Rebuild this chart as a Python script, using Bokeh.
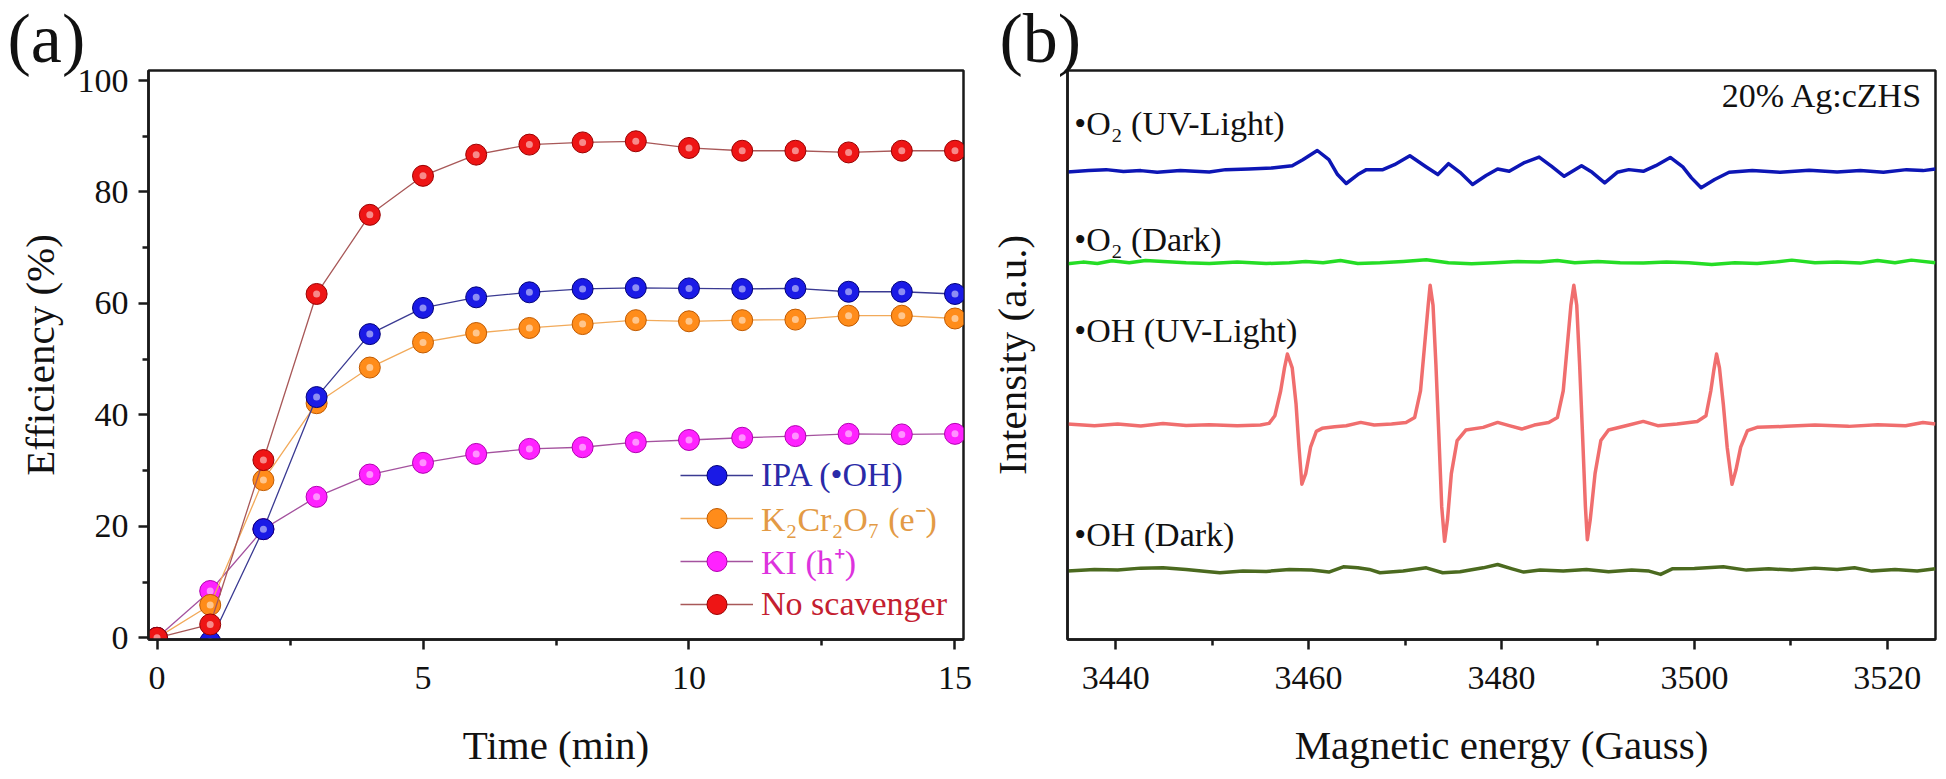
from bokeh.plotting import figure
from bokeh.layouts import row
from bokeh.models import Range1d, FixedTicker, Label, Legend, LegendItem
from bokeh.embed import file_html
from bokeh.resources import INLINE

FONT = "Liberation Serif"

# ---------------- Panel (a) data ----------------
time_min = list(range(16))
ipa = [0, -0.7, 19.5, 43.2, 54.5, 59.2, 61.1, 62.0, 62.6, 62.8, 62.7, 62.6, 62.7, 62.1, 62.1, 61.7]
k2cr2o7 = [0, 5.9, 28.3, 42.1, 48.5, 53.0, 54.7, 55.6, 56.3, 57.0, 56.8, 57.0, 57.1, 57.8, 57.8, 57.3]
ki = [0, 8.4, 19.5, 25.3, 29.3, 31.4, 33.0, 33.9, 34.2, 35.1, 35.5, 35.9, 36.2, 36.6, 36.5, 36.6]
no_scav = [0, 2.4, 31.9, 61.7, 75.9, 82.9, 86.7, 88.5, 88.9, 89.1, 87.9, 87.4, 87.4, 87.1, 87.4, 87.4]

a_xticks = [0, 5, 10, 15]
a_xminor = [2.5, 7.5, 12.5]
a_yticks = [0, 20, 40, 60, 80, 100]
a_yminor = [10, 30, 50, 70, 90]

# ---------------- Panel (b) data ----------------
o2_uv_G = [3435.0, 3437.2, 3439.0, 3440.8, 3442.6, 3444.3, 3446.7, 3449.7, 3451.4, 3453.8, 3456.2, 3458.3,
           3459.4, 3460.9, 3462.1, 3463.0, 3463.9, 3465.1, 3466.0, 3467.7, 3468.9, 3470.5, 3472.2, 3473.4,
           3474.5, 3475.7, 3477.0, 3478.4, 3479.6, 3480.8, 3482.3, 3483.9, 3485.2, 3486.5, 3488.3, 3489.4,
           3490.7, 3492.0, 3493.2, 3494.7, 3496.0, 3497.5, 3498.8, 3499.7, 3500.7, 3502.1, 3503.6, 3506.0,
           3508.9, 3511.9, 3514.8, 3517.2, 3519.6, 3522.0, 3523.7, 3525.0]
o2_uv_I = [469.7, 471.0, 472.0, 470.0, 471.0, 469.3, 471.0, 469.7, 472.0, 472.7, 473.7, 476.0,
           482.0, 491.3, 482.0, 467.0, 458.0, 467.0, 472.0, 472.0, 477.0, 486.0, 474.7, 467.0,
           478.0, 469.3, 457.0, 466.0, 472.7, 470.3, 478.7, 484.7, 475.3, 465.3, 476.0, 469.3,
           458.7, 469.3, 472.0, 470.3, 476.0, 484.3, 474.7, 463.7, 453.7, 462.0, 469.3, 471.0,
           469.3, 471.3, 469.7, 471.0, 469.3, 472.0, 471.0, 472.7]

o2_dark_G = [3435.0, 3436.6, 3438.1, 3439.6, 3441.4, 3443.1, 3444.9, 3447.3, 3449.7, 3452.6, 3455.6, 3458.0,
             3459.7, 3461.5, 3463.3, 3465.1, 3467.4, 3469.8, 3472.2, 3474.5, 3476.9, 3479.3, 3481.7, 3484.0,
             3485.8, 3487.6, 3490.0, 3492.3, 3494.7, 3497.1, 3499.4, 3501.8, 3504.2, 3506.5, 3508.3, 3510.1,
             3512.5, 3514.8, 3517.2, 3519.0, 3520.8, 3522.5, 3525.0]
o2_dark_I = [377.0, 378.7, 377.3, 380.0, 378.0, 380.3, 379.3, 378.0, 377.3, 378.7, 377.3, 378.0,
             379.3, 378.0, 380.3, 377.3, 378.0, 379.3, 381.0, 378.0, 377.0, 378.0, 379.3, 378.7,
             380.3, 378.0, 379.3, 378.0, 377.7, 378.7, 378.0, 376.3, 378.0, 377.3, 378.7, 380.7,
             378.0, 378.7, 377.7, 380.3, 378.0, 380.7, 378.0]

oh_uv_G = [3435.0, 3437.8, 3440.2, 3442.6, 3444.9, 3447.3, 3449.7, 3452.6, 3455.0, 3455.9, 3456.5, 3457.1,
           3457.5, 3457.8, 3458.3, 3458.7, 3459.0, 3459.3, 3459.7, 3460.2, 3460.8, 3461.4, 3462.7, 3463.9,
           3465.4, 3466.8, 3468.6, 3470.1, 3471.0, 3471.6, 3472.0, 3472.4, 3472.6, 3472.9, 3473.2, 3473.5,
           3473.8, 3474.1, 3474.4, 3474.8, 3475.4, 3476.3, 3478.1, 3479.6, 3480.8, 3482.1, 3483.4, 3484.9,
           3485.8, 3486.4, 3486.8, 3487.2, 3487.5, 3487.8, 3488.1, 3488.4, 3488.7, 3488.9, 3489.2, 3489.7,
           3490.3, 3491.1, 3492.9, 3494.7, 3496.2, 3498.2, 3500.3, 3501.2, 3501.7, 3502.0, 3502.3, 3502.6,
           3503.0, 3503.4, 3503.9, 3504.3, 3504.8, 3505.5, 3506.5, 3509.5, 3512.5, 3516.0, 3519.0, 3521.9,
           3523.7, 3525.0]
oh_uv_I = [215.3, 213.7, 215.3, 213.3, 216.0, 214.0, 214.7, 213.7, 214.3, 216.0, 223.7, 248.7,
           272.0, 286.0, 272.0, 235.3, 192.0, 154.7, 165.3, 192.0, 208.0, 211.0, 212.7, 213.7,
           217.0, 214.3, 215.3, 217.0, 222.0, 248.7, 292.0, 335.3, 355.3, 335.3, 275.3, 205.3,
           132.0, 97.0, 118.7, 165.3, 198.7, 209.3, 212.0, 217.0, 213.7, 210.3, 214.3, 217.0,
           222.0, 248.7, 292.0, 335.3, 355.3, 335.3, 275.3, 205.3, 132.0, 98.7, 118.7, 165.3,
           198.7, 209.3, 213.7, 218.0, 213.7, 215.3, 218.0, 223.7, 248.7, 268.7, 286.0, 272.0,
           235.3, 192.0, 154.7, 168.7, 192.0, 208.7, 212.0, 213.0, 214.3, 213.0, 214.7, 213.7,
           217.0, 215.3]

oh_dark_G = [3435.0, 3437.8, 3440.2, 3442.6, 3444.9, 3447.3, 3449.7, 3450.8, 3453.2, 3455.6, 3458.0, 3460.3,
             3462.1, 3463.6, 3465.1, 3466.3, 3467.4, 3469.8, 3472.2, 3473.9, 3475.7, 3478.1, 3479.6, 3481.1,
             3482.3, 3484.0, 3486.4, 3488.8, 3491.1, 3493.5, 3495.3, 3496.5, 3497.7, 3500.0, 3503.0, 3505.4,
             3507.7, 3510.1, 3512.5, 3514.8, 3516.6, 3518.4, 3520.8, 3523.1, 3525.0]
oh_dark_I = [67.0, 68.7, 68.0, 70.0, 70.3, 68.7, 66.3, 65.3, 67.0, 66.7, 68.7, 68.0,
             66.0, 71.3, 70.3, 68.7, 65.3, 67.0, 70.3, 65.3, 66.3, 70.3, 73.7, 69.3,
             66.0, 68.0, 67.0, 68.7, 66.3, 68.0, 67.0, 63.7, 69.3, 69.7, 71.3, 68.0,
             69.3, 68.0, 70.0, 68.7, 70.3, 67.0, 68.7, 67.0, 69.3]

b_xticks = [3440, 3460, 3480, 3500, 3520]
b_xminor = [3450, 3470, 3490, 3510]


def style_axes(p, tick_size="34px", title_size="41px"):
    p.background_fill_color = "white"
    p.border_fill_color = "white"
    p.grid.visible = False
    p.outline_line_color = "#1a1a1a"
    p.outline_line_width = 2.5
    for ax in (p.xaxis[0], p.yaxis[0]):
        ax.axis_line_color = "#1a1a1a"
        ax.axis_line_width = 2.5
        ax.major_tick_line_color = "#1a1a1a"
        ax.major_tick_line_width = 2.5
        ax.minor_tick_line_color = "#1a1a1a"
        ax.minor_tick_line_width = 2.5
        ax.major_tick_in = 0
        ax.major_tick_out = 10
        ax.minor_tick_in = 0
        ax.minor_tick_out = 6
        ax.major_label_text_font = FONT
        ax.major_label_text_font_size = tick_size
        ax.major_label_text_color = "#111111"
        ax.axis_label_text_font = FONT
        ax.axis_label_text_font_size = title_size
        ax.axis_label_text_font_style = "normal"
        ax.axis_label_text_color = "#111111"


def panel_title(p, text, offset):
    t = p.title
    t.text = text
    t.text_font = FONT
    t.text_font_size = "70px"
    t.text_font_style = "normal"
    t.text_color = "#111111"
    t.align = "left"
    t.vertical_align = "top"
    t.offset = offset
    t.standoff = -16


# ---------------- Figure (a) ----------------
pa = figure(width=985, height=779, output_backend="svg", toolbar_location=None,
            x_range=Range1d(-0.16, 15.16), y_range=Range1d(-0.3, 101.8),
            min_border_left=148, min_border_right=22, min_border_top=67, min_border_bottom=140,
            x_axis_label="Time (min)", y_axis_label="Efficiency (%)")
style_axes(pa)
panel_title(pa, "(a)", -141)
pa.xaxis.ticker = FixedTicker(ticks=a_xticks, minor_ticks=a_xminor)
pa.yaxis.ticker = FixedTicker(ticks=a_yticks, minor_ticks=a_yminor)
pa.xaxis.major_label_standoff = 17
pa.yaxis.major_label_standoff = 10
pa.xaxis.axis_label_standoff = 30
pa.yaxis.axis_label_standoff = 12

series = [
    ("KI (h⁺)", ki, "#a4529e", "#ff22ff", "#b000b0", "#dd33dd"),
    ("K₂Cr₂O₇ (e⁻)", k2cr2o7, "#f2aa5a", "#ff8c1a", "#c05a00", "#e39a45"),
    ("IPA (•OH)", ipa, "#3a3a92", "#1a1ae6", "#00007a", "#2a2aa8"),
    ("No scavenger", no_scav, "#a85858", "#ee1515", "#9a0000", "#c42030"),
]
legend_rows = {}
for name, vals, lcol, fcol, ecol, tcol in series:
    lr = pa.line(time_min, vals, line_color=lcol, line_width=1.3)
    sr = pa.scatter(time_min, vals, size=21, fill_color=fcol, line_color=ecol, line_width=1)
    pa.scatter(time_min, vals, size=7, fill_color="white", fill_alpha=0.5, line_alpha=0)
    legend_rows[name] = (lr, sr, tcol)

order = ["IPA (•OH)", "K₂Cr₂O₇ (e⁻)", "KI (h⁺)", "No scavenger"]
row_y = [139, 96, 53, 10]
for name, yy in zip(order, row_y):
    lr, sr, tcol = legend_rows[name]
    leg = Legend(items=[LegendItem(label=name, renderers=[lr, sr])], location=(532, yy),
                 glyph_width=73, glyph_height=50, padding=0, margin=0, spacing=0,
                 label_standoff=8, label_text_font=FONT, label_text_font_size="34px",
                 label_text_color=tcol, border_line_alpha=0, background_fill_alpha=0)
    pa.add_layout(leg)

# ---------------- Figure (b) ----------------
pb = figure(width=961, height=779, output_backend="svg", toolbar_location=None,
            x_range=Range1d(3435, 3525), y_range=Range1d(-2, 572),
            min_border_left=74, min_border_right=11, min_border_top=70, min_border_bottom=135,
            x_axis_label="Magnetic energy (Gauss)", y_axis_label="Intensity (a.u.)")
style_axes(pb)
panel_title(pb, "(b)", -68)
pb.xaxis.ticker = FixedTicker(ticks=b_xticks, minor_ticks=b_xminor)
pb.yaxis.ticker = FixedTicker(ticks=[])
pb.xaxis.major_label_standoff = 17
pb.xaxis.axis_label_standoff = 30
pb.yaxis.major_label_standoff = 0
pb.yaxis.major_tick_out = 0
pb.yaxis.axis_label_standoff = 33

for G, I, col in [(o2_uv_G, o2_uv_I, "#0d16b5"), (o2_dark_G, o2_dark_I, "#25dd25"),
                  (oh_uv_G, oh_uv_I, "#f06e6e"), (oh_dark_G, oh_dark_I, "#4b6a1f")]:
    pb.line(G, I, line_color=col, line_width=3.5, line_join="round")

for txt, yy in [("•O₂ (UV-Light)", 519), ("•O₂ (Dark)", 402), ("•OH (UV-Light)", 310), ("•OH (Dark)", 104)]:
    pb.add_layout(Label(x=3435.7, y=yy, text=txt, text_font=FONT, text_font_size="34px",
                        text_baseline="middle", text_align="left", text_color="#111111"))
pb.add_layout(Label(x=3523.7, y=547, text="20% Ag:cZHS", text_font=FONT, text_font_size="34px",
                    text_baseline="middle", text_align="right", text_color="#111111"))

layout = row(pa, pb, spacing=0)
open("out.html", "w").write(file_html(layout, INLINE))
